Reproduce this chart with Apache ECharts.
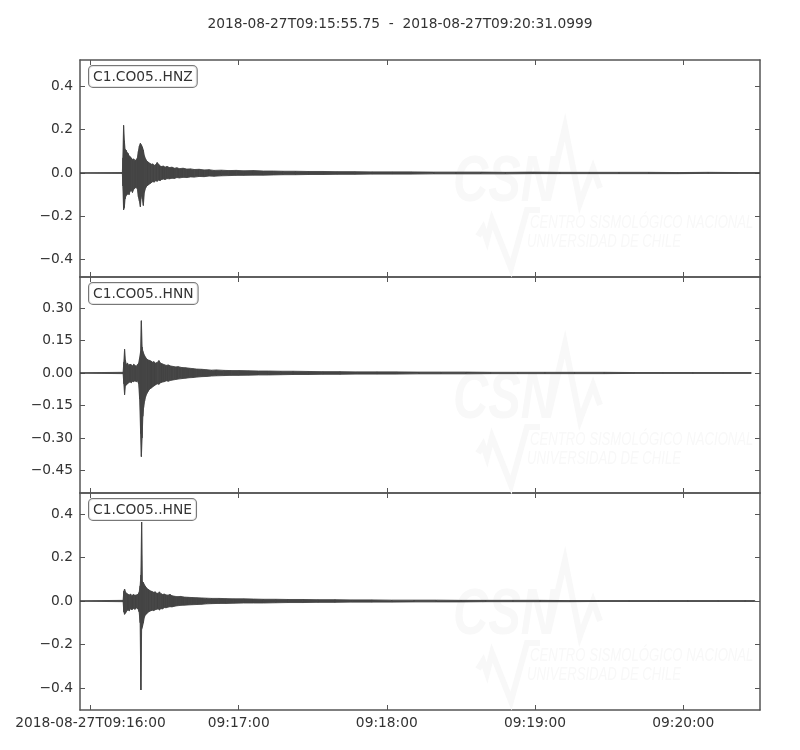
<!DOCTYPE html>
<html>
<head>
<meta charset="utf-8">
<script src="https://cdn.jsdelivr.net/npm/echarts@6/dist/echarts.min.js"></script>
<style>
html,body{margin:0;padding:0;background:#fff;}
#chart{width:800px;height:750px;}
</style>
</head>
<body>
<div id="chart"></div>
<script>
// ---------- DATA ----------
const titleText = '2018-08-27T09:15:55.75  -  2018-08-27T09:20:31.0999';
// time in seconds relative to 2018-08-27T09:16:00
const timeMin = -4.25;
const timeMax = 271.0999;
const xTickValues = [0, 60, 120, 180, 240];
const xTickLabels = ['2018-08-27T09:16:00', '09:17:00', '09:18:00', '09:19:00', '09:20:00'];

const channelNames = ['C1.CO05..HNZ', 'C1.CO05..HNN', 'C1.CO05..HNE'];

const yRangeZ = [-0.481, 0.5225];
const yRangeN = [-0.554, 0.443];
const yRangeE = [-0.501, 0.4966];
const yTicksZ = [-0.4, -0.2, 0, 0.2, 0.4];
const yTickLabelsZ = ['\u22120.4', '\u22120.2', '0.0', '0.2', '0.4'];
const yTicksN = [-0.45, -0.30, -0.15, 0, 0.15, 0.30];
const yTickLabelsN = ['\u22120.45', '\u22120.30', '\u22120.15', '0.00', '0.15', '0.30'];
const yTicksE = [-0.4, -0.2, 0, 0.2, 0.4];
const yTickLabelsE = ['\u22120.4', '\u22120.2', '0.0', '0.2', '0.4'];

// envelope (max / min) of each trace
const timeZ = [-4.25, 12.9, 13.1, 13.4, 13.7, 14.0, 14.4, 14.8, 15.2, 15.6, 16.0, 16.5, 17.0, 17.5, 18.0, 18.5, 19.0, 19.4, 19.8, 20.2, 20.6, 21.0, 21.4, 21.8, 22.3, 22.8, 23.4, 24.0, 24.6, 25.2, 25.8, 26.4, 27.0, 27.6, 28.2, 28.8, 29.5, 30.2, 31.0, 32, 33, 34, 35, 36, 37.5, 39, 40.5, 42, 44, 46, 48, 50, 53, 56, 59, 62, 66, 70, 74, 78, 83, 88, 94, 100, 107, 114, 122, 130, 139, 148, 158, 168, 179, 190, 202, 214, 226, 238, 250, 262, 271.1];
const upperZ = [0.001, 0.002, 0.07, 0.22, 0.15, 0.11, 0.105, 0.095, 0.09, 0.08, 0.075, 0.07, 0.062, 0.065, 0.058, 0.06, 0.07, 0.10, 0.125, 0.137, 0.13, 0.12, 0.105, 0.08, 0.065, 0.055, 0.05, 0.045, 0.04, 0.042, 0.035, 0.038, 0.048, 0.04, 0.032, 0.03, 0.032, 0.027, 0.03, 0.025, 0.027, 0.022, 0.024, 0.02, 0.022, 0.018, 0.019, 0.016, 0.017, 0.014, 0.015, 0.012, 0.013, 0.011, 0.012, 0.010, 0.011, 0.009, 0.009, 0.008, 0.008, 0.007, 0.007, 0.006, 0.006, 0.005, 0.005, 0.005, 0.004, 0.004, 0.004, 0.003, 0.004, 0.003, 0.003, 0.003, 0.003, 0.002, 0.003, 0.002, 0.002];
const lowerZ = [-0.001, -0.002, -0.06, -0.17, -0.16, -0.12, -0.105, -0.10, -0.095, -0.10, -0.085, -0.08, -0.09, -0.075, -0.07, -0.065, -0.075, -0.11, -0.13, -0.156, -0.10, -0.12, -0.15, -0.09, -0.07, -0.06, -0.055, -0.05, -0.045, -0.04, -0.042, -0.036, -0.038, -0.033, -0.035, -0.03, -0.028, -0.03, -0.026, -0.027, -0.024, -0.025, -0.021, -0.023, -0.02, -0.021, -0.018, -0.019, -0.016, -0.017, -0.014, -0.015, -0.013, -0.012, -0.011, -0.011, -0.010, -0.010, -0.009, -0.008, -0.008, -0.007, -0.007, -0.006, -0.006, -0.005, -0.005, -0.005, -0.004, -0.004, -0.004, -0.004, -0.003, -0.003, -0.003, -0.003, -0.003, -0.003, -0.002, -0.002, -0.002];

const timeN = [-4.25, 13.2, 13.5, 13.8, 14.1, 14.5, 15.0, 15.5, 16.0, 16.5, 17.0, 17.5, 18.0, 18.5, 19.0, 19.5, 19.9, 20.3, 20.6, 20.9, 21.2, 21.5, 21.9, 22.3, 22.8, 23.3, 23.9, 24.5, 25.1, 25.7, 26.3, 27.0, 27.7, 28.4, 29.1, 29.9, 30.7, 31.5, 32.5, 33.5, 34.5, 35.5, 37, 38.5, 40, 41.5, 43, 45, 47, 49, 51, 54, 57, 60, 64, 68, 72, 77, 82, 88, 94, 101, 108, 116, 124, 133, 142, 152, 162, 173, 184, 196, 208, 220, 232, 244, 256, 267.5];
const upperN = [0.001, 0.003, 0.05, 0.109, 0.06, 0.04, 0.045, 0.035, 0.04, 0.038, 0.032, 0.04, 0.035, 0.03, 0.038, 0.045, 0.07, 0.10, 0.241, 0.12, 0.10, 0.09, 0.08, 0.072, 0.064, 0.06, 0.058, 0.055, 0.05, 0.052, 0.045, 0.048, 0.057, 0.045, 0.042, 0.038, 0.035, 0.037, 0.032, 0.03, 0.028, 0.029, 0.025, 0.024, 0.022, 0.02, 0.018, 0.017, 0.015, 0.013, 0.014, 0.012, 0.011, 0.011, 0.010, 0.009, 0.009, 0.008, 0.008, 0.007, 0.006, 0.006, 0.005, 0.005, 0.005, 0.004, 0.004, 0.004, 0.003, 0.003, 0.003, 0.003, 0.003, 0.002, 0.002, 0.002, 0.002, 0.002];
const lowerN = [-0.001, -0.003, -0.05, -0.10, -0.06, -0.055, -0.05, -0.045, -0.04, -0.045, -0.038, -0.04, -0.035, -0.04, -0.036, -0.05, -0.12, -0.28, -0.386, -0.30, -0.20, -0.16, -0.13, -0.11, -0.095, -0.085, -0.075, -0.07, -0.065, -0.06, -0.055, -0.05, -0.052, -0.045, -0.042, -0.04, -0.036, -0.038, -0.034, -0.032, -0.03, -0.028, -0.026, -0.024, -0.022, -0.021, -0.019, -0.017, -0.016, -0.014, -0.013, -0.012, -0.011, -0.011, -0.010, -0.009, -0.009, -0.008, -0.007, -0.007, -0.006, -0.006, -0.005, -0.005, -0.005, -0.004, -0.004, -0.004, -0.003, -0.003, -0.003, -0.003, -0.003, -0.002, -0.002, -0.002, -0.002, -0.002];

const timeE = [-4.25, 13.2, 13.5, 13.8, 14.2, 14.7, 15.2, 15.7, 16.2, 16.8, 17.4, 18.0, 18.6, 19.2, 19.7, 20.1, 20.4, 20.7, 21.0, 21.4, 21.8, 22.2, 22.7, 23.2, 23.8, 24.4, 25.0, 25.6, 26.2, 26.8, 27.4, 27.9, 28.5, 29.2, 29.9, 30.6, 31.4, 32.2, 33.0, 34.0, 35.0, 36.5, 38, 39.5, 41, 43, 45, 47, 49, 52, 55, 58, 62, 66, 70, 75, 80, 86, 92, 99, 106, 114, 122, 131, 140, 150, 160, 171, 182, 194, 206, 218, 230, 242, 254, 265, 269];
const upperE = [0.001, 0.003, 0.045, 0.055, 0.04, 0.035, 0.03, 0.028, 0.032, 0.025, 0.03, 0.026, 0.028, 0.03, 0.04, 0.07, 0.12, 0.363, 0.09, 0.085, 0.075, 0.068, 0.06, 0.055, 0.05, 0.046, 0.043, 0.04, 0.042, 0.036, 0.035, 0.042, 0.034, 0.03, 0.032, 0.028, 0.027, 0.03, 0.024, 0.022, 0.02, 0.021, 0.018, 0.017, 0.016, 0.015, 0.014, 0.013, 0.012, 0.012, 0.011, 0.010, 0.010, 0.009, 0.008, 0.008, 0.007, 0.007, 0.006, 0.006, 0.005, 0.005, 0.004, 0.004, 0.004, 0.003, 0.003, 0.003, 0.003, 0.002, 0.002, 0.002, 0.002, 0.002, 0.002, 0.002, 0.002];
const lowerE = [-0.001, -0.003, -0.05, -0.061, -0.055, -0.045, -0.04, -0.045, -0.035, -0.04, -0.033, -0.038, -0.032, -0.035, -0.05, -0.10, -0.409, -0.13, -0.12, -0.10, -0.075, -0.064, -0.06, -0.052, -0.048, -0.045, -0.042, -0.044, -0.04, -0.038, -0.036, -0.041, -0.035, -0.036, -0.03, -0.031, -0.028, -0.026, -0.027, -0.024, -0.022, -0.02, -0.019, -0.018, -0.017, -0.016, -0.015, -0.013, -0.012, -0.011, -0.011, -0.010, -0.009, -0.009, -0.009, -0.008, -0.007, -0.007, -0.006, -0.006, -0.005, -0.005, -0.005, -0.004, -0.004, -0.004, -0.003, -0.003, -0.003, -0.003, -0.002, -0.002, -0.002, -0.002, -0.002, -0.002, -0.002];

// ---------- CHART ----------
const FONT = 'DejaVu Sans';
const FS = 13.8;
const TEXT = '#333';
const AXIS = '#555';
const TRACE = '#444';
const gridTops = [60, 277, 493];
const gridHeights = [217, 216, 217];

function labelFrom(ticks, labels) {
  return function (v) {
    for (let i = 0; i < ticks.length; i++) if (Math.abs(ticks[i] - v) < 1e-9) return labels[i];
    return '';
  };
}

const yConf = [
  { range: yRangeZ, ticks: yTicksZ, labels: yTickLabelsZ },
  { range: yRangeN, ticks: yTicksN, labels: yTickLabelsN },
  { range: yRangeE, ticks: yTicksE, labels: yTickLabelsE }
];
const traceTimes = [timeZ, timeN, timeE];
const traceUpper = [upperZ, upperN, upperE];
const traceLower = [lowerZ, lowerN, lowerE];

// each data item [t, max, min]; renderItem draws the band segment to the next item
function renderBand(params, api) {
  const i = params.dataIndexInside;
  if (i + 1 >= params.dataInsideLength) return null;
  const t0 = api.value(0, i), h0 = api.value(1, i), l0 = api.value(2, i);
  const t1 = api.value(0, i + 1), h1 = api.value(1, i + 1), l1 = api.value(2, i + 1);
  const pts = [api.coord([t0, h0]), api.coord([t1, h1]), api.coord([t1, l1]), api.coord([t0, l0])];
  return {
    type: 'polygon',
    shape: { points: pts },
    style: { fill: TRACE, stroke: TRACE, lineWidth: 0.9 },
    silent: true
  };
}

const grids = [], xAxes = [], yAxes = [], series = [], graphics = [];
const axisLineStyle = { show: true, onZero: false, lineStyle: { color: AXIS, width: 1.5 } };

for (let g = 0; g < 3; g++) {
  grids.push({ left: 80, width: 680, top: gridTops[g], height: gridHeights[g], containLabel: false });
  xAxes.push({
    type: 'value', gridIndex: g, position: 'bottom', min: timeMin, max: timeMax,
    axisLine: axisLineStyle,
    axisTick: { show: true, inside: true, length: 5, customValues: xTickValues, lineStyle: { color: AXIS, width: 1 } },
    axisLabel: {
      show: g === 2, customValues: xTickValues, margin: 6, color: TEXT, fontFamily: FONT, fontSize: FS,
      formatter: labelFrom(xTickValues, xTickLabels)
    },
    splitLine: { show: false }
  });
  xAxes.push({
    type: 'value', gridIndex: g, position: 'top', min: timeMin, max: timeMax,
    axisLine: axisLineStyle,
    axisTick: { show: true, inside: true, length: 5, customValues: xTickValues, lineStyle: { color: AXIS, width: 1 } },
    axisLabel: { show: false },
    splitLine: { show: false }
  });
  const yc = yConf[g];
  yAxes.push({
    type: 'value', gridIndex: g, position: 'left', min: yc.range[0], max: yc.range[1],
    axisLine: axisLineStyle,
    axisTick: { show: true, inside: true, length: 5, customValues: yc.ticks, lineStyle: { color: AXIS, width: 1 } },
    axisLabel: {
      show: true, customValues: yc.ticks, margin: 7, color: TEXT, fontFamily: FONT, fontSize: FS,
      formatter: labelFrom(yc.ticks, yc.labels)
    },
    splitLine: { show: false }
  });
  yAxes.push({
    type: 'value', gridIndex: g, position: 'right', min: yc.range[0], max: yc.range[1],
    axisLine: axisLineStyle,
    axisTick: { show: true, inside: true, length: 5, customValues: yc.ticks, lineStyle: { color: AXIS, width: 1 } },
    axisLabel: { show: false },
    splitLine: { show: false }
  });

  const tt = traceTimes[g], up = traceUpper[g], lo = traceLower[g];
  series.push({
    type: 'custom', name: channelNames[g], xAxisIndex: 2 * g, yAxisIndex: 2 * g,
    data: tt.map((t, i) => [t, up[i], lo[i]]),
    dimensions: ['t', 'max', 'min'],
    encode: { x: 0, y: [1, 2] },
    renderItem: renderBand, clip: true, z: 5, silent: true
  });

  // faint CSN watermark
  const T = gridTops[g];
  const wm = '#f8f8f8';
  graphics.push({
    type: 'polyline', z: 1, silent: true,
    shape: { points: [[478, T + 176], [483, T + 168], [487, T + 180], [492, T + 160], [511, T + 208], [527, T + 150], [540, T + 150]] },
    style: { stroke: wm, lineWidth: 6, fill: null, lineJoin: 'miter' }
  });
  graphics.push({
    type: 'polyline', z: 1, silent: true,
    shape: { points: [[548, T + 140], [565, T + 67], [580, T + 143], [593, T + 108], [600, T + 128]] },
    style: { stroke: wm, lineWidth: 6, fill: null, lineJoin: 'miter' }
  });
  graphics.push({
    type: 'text', z: 1, silent: true, x: 453, y: T + 91, scaleX: 0.75,
    style: { text: 'CSN', fill: wm, font: 'italic bold 65px "Liberation Sans"', textVerticalAlign: 'top' }
  });
  graphics.push({
    type: 'text', z: 1, silent: true, x: 530, y: T + 154, scaleX: 0.73,
    style: { text: 'CENTRO SISMOLÓGICO NACIONAL', fill: wm, font: 'italic 18px "Liberation Sans"', textVerticalAlign: 'top' }
  });
  graphics.push({
    type: 'text', z: 1, silent: true, x: 527, y: T + 173, scaleX: 0.73,
    style: { text: 'UNIVERSIDAD DE CHILE', fill: wm, font: 'italic 18px "Liberation Sans"', textVerticalAlign: 'top' }
  });

  // channel label box
  graphics.push({
    type: 'text', z: 100, silent: true, x: 89, y: T + 6,
    style: {
      text: channelNames[g], fill: TEXT, font: FS + 'px "DejaVu Sans"',
      backgroundColor: 'rgba(255,255,255,0.8)', borderColor: '#777', borderWidth: 1, borderRadius: 4,
      padding: [4, 4, 3, 4], textVerticalAlign: 'top'
    }
  });
}

const chart = echarts.init(document.getElementById('chart'), null, { renderer: 'canvas' });
chart.setOption({
  animation: false,
  backgroundColor: '#fff',
  title: {
    text: titleText, left: 'center', top: 12,
    textStyle: { color: TEXT, fontFamily: FONT, fontSize: FS, fontWeight: 'normal' }
  },
  grid: grids,
  xAxis: xAxes,
  yAxis: yAxes,
  series: series,
  graphic: { elements: graphics }
});
</script>
</body>
</html>
